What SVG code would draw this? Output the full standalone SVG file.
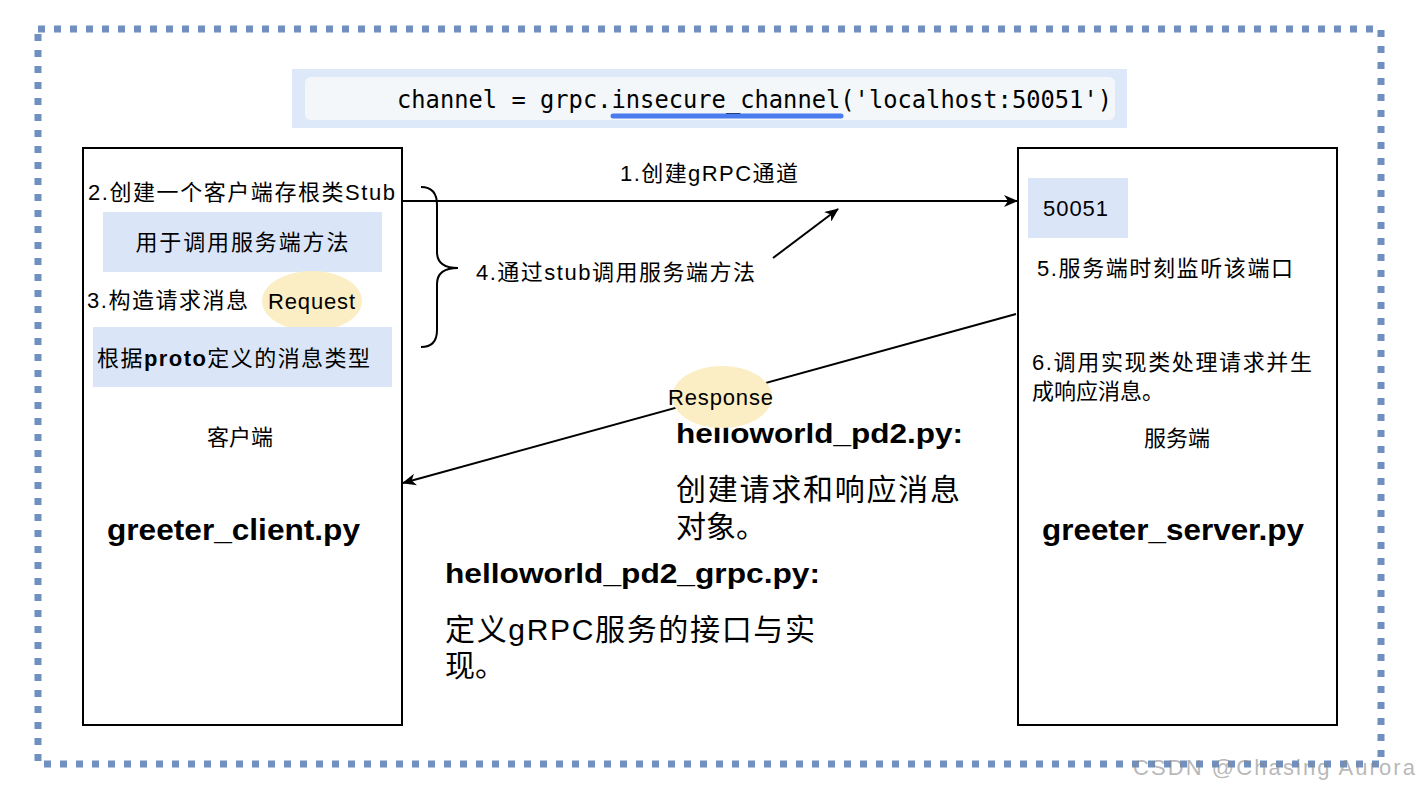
<svg xmlns="http://www.w3.org/2000/svg" width="1420" height="790" viewBox="0 0 1420 790">
<style>
.t{font-family:"Liberation Sans","Noto Sans CJK SC",sans-serif;font-size:22px;fill:#000}
.b{font-weight:bold}
.big{font-size:30px}
.mid{font-size:28px}
.box{fill:#fff;stroke:#000;stroke-width:2}
.hl{fill:#dae6f8}
.ell{fill:#fbeec4}
.ln{stroke:#000;stroke-width:2;fill:none}
</style>
<defs>
<marker id="ah" viewBox="0 0 14 12" refX="13" refY="6" markerWidth="14" markerHeight="12" markerUnits="userSpaceOnUse" orient="auto">
<path d="M0,0 L14,6 L0,12 L4,6 Z" fill="#000"/>
</marker>
</defs>
<rect width="1420" height="790" fill="#fff"/>
<rect x="38" y="29" width="1343" height="735" fill="none" stroke="#7090c0" stroke-width="7" stroke-dasharray="7 9"/>
<g id="code">
<rect x="292" y="69" width="835" height="59" fill="#dde8f8"/>
<rect x="305" y="77" width="810" height="43" rx="6" fill="#f4f7f9"/>
<text x="397" y="108" font-family="DejaVu Sans Mono,Liberation Mono,monospace" font-size="24" textLength="715" lengthAdjust="spacingAndGlyphs">channel = grpc.insecure_channel('localhost:50051')</text>
<line x1="613" y1="116" x2="841" y2="116" stroke="#4a7cf0" stroke-width="5" stroke-linecap="round"/>
</g>
<g id="client">
<rect class="box" x="83" y="148" width="319" height="577"/>
<text class="t" x="88" y="200" textLength="307">2.创建一个客户端存根类Stub</text>
<rect class="hl" x="103" y="212" width="279" height="60"/>
<text class="t" x="242" y="250" text-anchor="middle" textLength="213">用于调用服务端方法</text>
<text class="t" x="87" y="308" textLength="161">3.构造请求消息</text>
<ellipse class="ell" cx="312" cy="301" rx="50" ry="30"/>
<text class="t" x="268" y="309" textLength="87">Request</text>
<rect class="hl" x="93" y="327" width="299" height="60"/>
<text class="t" x="97" y="366" textLength="273">根据<tspan class="b">proto</tspan>定义的消息类型</text>
<text class="t" x="240" y="445" text-anchor="middle">客户端</text>
<text class="t b big" x="107" y="540" textLength="253" lengthAdjust="spacingAndGlyphs">greeter_client.py</text>
</g>
<g id="server">
<rect class="box" x="1018" y="148" width="319" height="577"/>
<rect class="hl" x="1028" y="178" width="100" height="60"/>
<text class="t" x="1043" y="216" textLength="65">50051</text>
<text class="t" x="1037" y="276" textLength="256">5.服务端时刻监听该端口</text>
<text class="t" x="1032" y="370" textLength="280">6.调用实现类处理请求并生</text>
<text class="t" x="1032" y="399">成响应消息。</text>
<text class="t" x="1177" y="446" text-anchor="middle">服务端</text>
<text class="t b big" x="1042" y="540" textLength="262" lengthAdjust="spacingAndGlyphs">greeter_server.py</text>
</g>
<g id="notes">
<text class="t b mid" x="676" y="443" textLength="287" lengthAdjust="spacingAndGlyphs">helloworld_pd2.py:</text>
<text class="t big" x="676" y="500" textLength="284">创建请求和响应消息</text>
<text class="t big" x="676" y="537">对象。</text>
<text class="t b mid" x="445" y="583" textLength="375" lengthAdjust="spacingAndGlyphs">helloworld_pd2_grpc.py:</text>
<text class="t big" x="445" y="640" textLength="370">定义gRPC服务的接口与实</text>
<text class="t big" x="445" y="676">现。</text>
</g>
<g id="connectors">
<line class="ln" x1="402" y1="201" x2="1017" y2="201" marker-end="url(#ah)"/>
<text class="t" x="620" y="181" textLength="178">1.创建gRPC通道</text>
<path class="ln" d="M421,187 Q437,187 437,205 L437,252 Q437,268 458,268 Q437,268 437,284 L437,330 Q437,347 421,347"/>
<text class="t" x="476" y="280" textLength="279">4.通过stub调用服务端方法</text>
<line class="ln" x1="773" y1="258" x2="838" y2="209" marker-end="url(#ah)"/>
<line class="ln" x1="1016" y1="314" x2="403" y2="483" marker-end="url(#ah)"/>
<ellipse class="ell" cx="722" cy="397" rx="50" ry="31"/>
<text class="t" x="668" y="405" textLength="105">Response</text>
</g>
<text x="1133" y="775" font-family="Liberation Sans,sans-serif" font-size="22" fill="#888" fill-opacity="0.6" textLength="282">CSDN @Chasing Aurora</text>
</svg>
